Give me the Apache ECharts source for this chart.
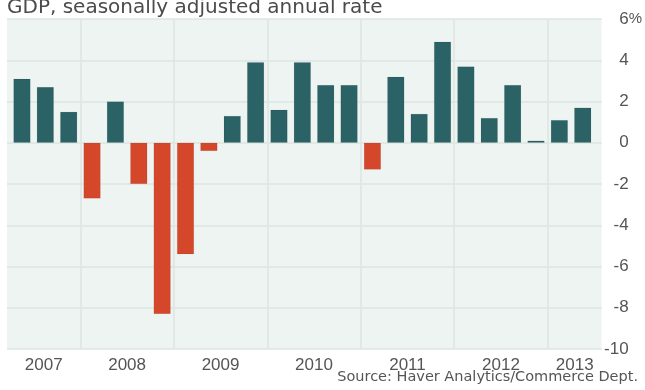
<!DOCTYPE html>
<html>
<head>
<meta charset="utf-8">
<script src="https://cdn.jsdelivr.net/npm/echarts@6/dist/echarts.min.js"></script>
<style>
  html, body { margin: 0; padding: 0; background: #fff; }
  #chart { width: 645px; height: 390px; }
</style>
</head>
<body>
<div id="chart"></div>
<script>
// quarters, 2007 Q2 .. 2013 Q2
var quarters = ['2007 Q2', '2007 Q3', '2007 Q4',
    '2008 Q1', '2008 Q2', '2008 Q3', '2008 Q4',
    '2009 Q1', '2009 Q2', '2009 Q3', '2009 Q4',
    '2010 Q1', '2010 Q2', '2010 Q3', '2010 Q4',
    '2011 Q1', '2011 Q2', '2011 Q3', '2011 Q4',
    '2012 Q1', '2012 Q2', '2012 Q3', '2012 Q4',
    '2013 Q1', '2013 Q2'];
// GDP growth, % annual rate
var gdp = [3.1, 2.7, 1.5,
    -2.7, 2.0, -2.0, -8.3,
    -5.4, -0.4, 1.3, 3.9,
    1.6, 3.9, 2.8, 2.8,
    -1.3, 3.2, 1.4, 4.9,
    3.7, 1.2, 2.8, 0.1,
    1.1, 1.7];
var years = ['2007', '2008', '2009', '2010', '2011', '2012', '2013'];
var yTicks = [-10, -8, -6, -4, -2, 0, 2, 4, 6];

var numFont = '"Liberation Sans", Arial, sans-serif';

// bar points on a numeric x (quarter index)
var barData = gdp.map(function (v, i) {
    return {
        value: [i, v],
        itemStyle: { color: v < 0 ? '#d5472a' : '#2b6265' }
    };
});

// year boundaries (before each Q1) and year label centres
var yearLines = [];
var yearCenters = [];
years.forEach(function (y) {
    var idx = [];
    quarters.forEach(function (q, i) { if (q.indexOf(y) === 0) idx.push(i); });
    if (quarters[idx[0]].slice(-2) === 'Q1') yearLines.push({ xAxis: idx[0] - 0.5 });
    var lo = idx[0] === 0 ? -0.64 : idx[0] - 0.5;
    var hi = idx[idx.length - 1] === quarters.length - 1 ? quarters.length - 0.19 : idx[idx.length - 1] + 0.5;
    yearCenters.push((lo + hi) / 2);
});

var myChart = echarts.init(document.getElementById('chart'));
var option = {
    animation: false,
    title: [
        {
            text: 'GDP, seasonally adjusted annual rate',
            left: 2,
            top: -7,
            textStyle: { fontFamily: '"DejaVu Sans", Verdana, sans-serif', fontSize: 20, fontWeight: 'normal', color: '#4b4b4b' }
        },
        {
            text: 'Source: Haver Analytics/Commerce Dept.',
            right: 2,
            top: 365,
            textStyle: { fontFamily: '"DejaVu Sans", Verdana, sans-serif', fontSize: 14.5, fontWeight: 'normal', color: '#555' }
        }
    ],
    grid: {
        left: 7,
        top: 19,
        width: 596,
        height: 330,
        show: true,
        backgroundColor: '#eef4f2',
        borderWidth: 0
    },
    xAxis: {
        type: 'value',
        min: -0.64,
        max: quarters.length - 0.19,
        axisLine: { show: false },
        axisTick: { show: false },
        splitLine: { show: false },
        axisLabel: {
            customValues: yearCenters,
            formatter: function (v) {
                var k = yearCenters.indexOf(v);
                return k >= 0 ? years[k] : '';
            },
            margin: 8,
            fontFamily: numFont,
            fontSize: 17,
            color: '#555'
        }
    },
    yAxis: {
        type: 'value',
        position: 'right',
        min: -10,
        max: 6,
        interval: 2,
        axisLine: { show: false },
        axisTick: { show: false },
        splitLine: { lineStyle: { color: '#dde6e3', width: 1.5 } },
        axisLabel: {
            align: 'left',
            margin: 1,
            fontFamily: numFont,
            fontSize: 17,
            color: '#555',
            formatter: function (v) {
                return '{n|' + v + '}' + (v === yTicks[yTicks.length - 1] ? '{p|%}' : '');
            },
            rich: {
                n: { width: 26, align: 'right', fontFamily: numFont, fontSize: 17, color: '#555' },
                p: { align: 'right', fontFamily: numFont, fontSize: 15, color: '#555' }
            }
        }
    },
    series: [
        {
            type: 'bar',
            barWidth: 17,
            data: barData,
            itemStyle: { borderColor: 'rgba(0,0,0,0.12)', borderWidth: 0.5 },
            markLine: {
                silent: true,
                symbol: 'none',
                label: { show: false },
                lineStyle: { color: '#dde6e3', width: 1.5, type: 'solid' },
                data: yearLines
            },
            z: 3
        }
    ]
};
myChart.setOption(option);
</script>
</body>
</html>
